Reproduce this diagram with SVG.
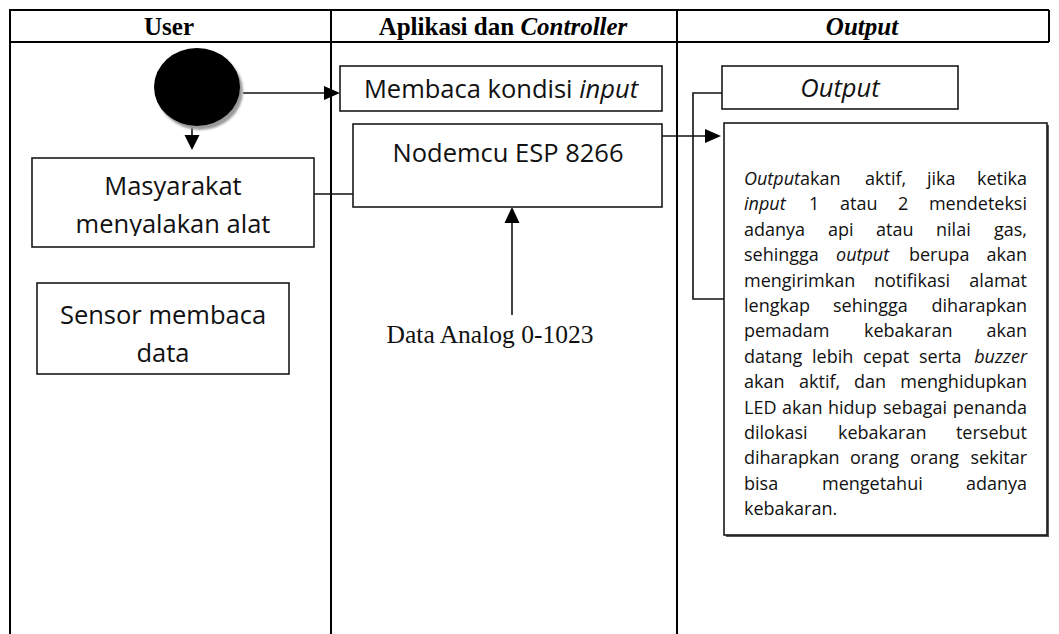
<svg xmlns="http://www.w3.org/2000/svg" width="1059" height="634" viewBox="0 0 1059 634">
  <style>
    .grid { stroke: #000; stroke-width: 2; fill: none; }
    .box { fill: #fff; stroke: #1a1a1a; stroke-width: 1.6; }
    .hdr { font-family: "Liberation Serif", "Times New Roman", serif; font-weight: bold; font-size: 25px; fill: #000; text-anchor: middle; }
    .lbl { font-family: "Open Sans", "Liberation Sans", sans-serif; font-size: 25.5px; fill: #111; text-anchor: middle; }
    .para { font-family: "Open Sans", "Liberation Sans", sans-serif; font-size: 18px; fill: #111; }
    .para .r { text-anchor: end; }
    .serif { font-family: "Liberation Serif", "Times New Roman", serif; font-size: 25.5px; fill: #111; text-anchor: middle; }
    .conn { stroke: #111; stroke-width: 1.6; fill: none; }
    .head { fill: #000; }
    .it { font-style: italic; }
  </style>
  <defs>
    <filter id="soft" x="-20%" y="-20%" width="140%" height="140%">
      <feGaussianBlur stdDeviation="1.2"/>
    </filter>
    <clipPath id="clipMas">
      <rect x="32" y="158" width="282" height="78"/>
    </clipPath>
  </defs>

  <!-- swimlane table -->
  <g id="lanes">
    <line class="grid" x1="9" y1="10" x2="1049" y2="10"/>
    <line class="grid" x1="9" y1="42" x2="1049" y2="42"/>
    <line class="grid" x1="10" y1="10" x2="10" y2="634"/>
    <line class="grid" x1="331" y1="10" x2="331" y2="634"/>
    <line class="grid" x1="677" y1="10" x2="677" y2="634"/>
    <line class="grid" x1="1049" y1="10" x2="1049" y2="42"/>
    <text class="hdr" x="169" y="35">User</text>
    <text class="hdr" x="503" y="35">Aplikasi dan <tspan class="it">Controller</tspan></text>
    <text class="hdr it" x="862" y="35">Output</text>
  </g>

  <!-- connectors -->
  <g id="connectors">
    <line class="conn" x1="243" y1="93" x2="326" y2="93"/>
    <polygon class="head" points="340,93 324,86 324,100"/>
    <line class="conn" x1="192" y1="126" x2="192" y2="137"/>
    <polygon class="head" points="192,150 184.5,135 199.5,135"/>
    <line class="conn" x1="314" y1="194" x2="353" y2="194"/>
    <line class="conn" x1="662" y1="136" x2="707" y2="136"/>
    <polygon class="head" points="721,136 705,129 705,143"/>
    <line class="conn" x1="512" y1="315" x2="512" y2="220"/>
    <polygon class="head" points="512,207 504.5,223 519.5,223"/>
    <polyline class="conn" points="722,93 693,93 693,299 724,299"/>
  </g>

  <g id="start">
    <ellipse cx="200" cy="91" rx="43" ry="39" fill="#9a9a9a" filter="url(#soft)"/>
    <ellipse cx="197" cy="87" rx="43" ry="39" fill="#000"/>
  </g>

  <g id="membaca">
    <rect class="box" x="340" y="66" width="322" height="45"/>
    <text class="lbl" x="501" y="98">Membaca kondisi <tspan class="it">input</tspan></text>
  </g>

  <g id="nodemcu">
    <rect class="box" x="353" y="124" width="309" height="83"/>
    <text class="lbl" x="508" y="162">Nodemcu ESP 8266</text>
  </g>

  <g id="masyarakat">
    <rect class="box" x="32" y="158" width="282" height="89"/>
    <g clip-path="url(#clipMas)">
      <text class="lbl" x="173" y="195">Masyarakat</text>
      <text class="lbl" x="173" y="233">menyalakan alat</text>
    </g>
  </g>

  <g id="sensor">
    <rect class="box" x="37" y="283" width="252" height="91"/>
    <text class="lbl" x="163" y="324">Sensor membaca</text>
    <text class="lbl" x="163" y="362">data</text>
  </g>

  <g id="analog">
    <text class="serif" x="490" y="343">Data Analog 0-1023</text>
  </g>

  <g id="output">
    <rect class="box" x="722" y="66" width="236" height="43"/>
    <text class="lbl it" x="840" y="97">Output</text>
  </g>

  <g id="keterangan">
    <rect x="726" y="125" width="323" height="412" fill="#555"/>
    <rect class="box" x="724" y="123" width="323" height="412"/>
    <text class="para" y="185">
      <tspan x="744"><tspan class="it">Output</tspan>akan</tspan><tspan x="865">aktif,</tspan><tspan x="927">jika</tspan><tspan class="r" x="1027">ketika</tspan>
    </text>
    <text class="para" y="210.4">
      <tspan x="744" class="it">input</tspan><tspan x="809">1</tspan><tspan x="840">atau</tspan><tspan x="898">2</tspan><tspan class="r" x="1027">mendeteksi</tspan>
    </text>
    <text class="para" y="235.8">
      <tspan x="744">adanya</tspan><tspan x="828">api</tspan><tspan x="876">atau</tspan><tspan x="936">nilai</tspan><tspan class="r" x="1027">gas,</tspan>
    </text>
    <text class="para" y="261.2">
      <tspan x="744">sehingga</tspan><tspan x="836" class="it">output</tspan><tspan x="909">berupa</tspan><tspan class="r" x="1027">akan</tspan>
    </text>
    <text class="para" y="286.6">
      <tspan x="744">mengirimkan</tspan><tspan x="874">notifikasi</tspan><tspan class="r" x="1027">alamat</tspan>
    </text>
    <text class="para" y="312">
      <tspan x="744">lengkap</tspan><tspan x="833">sehingga</tspan><tspan class="r" x="1027">diharapkan</tspan>
    </text>
    <text class="para" y="337.4">
      <tspan x="744">pemadam</tspan><tspan x="864">kebakaran</tspan><tspan class="r" x="1027">akan</tspan>
    </text>
    <text class="para" y="362.8">
      <tspan x="744">datang</tspan><tspan x="812">lebih</tspan><tspan x="863">cepat</tspan><tspan x="919">serta</tspan><tspan class="r it" x="1027">buzzer</tspan>
    </text>
    <text class="para" y="388.2">
      <tspan x="744">akan</tspan><tspan x="799">aktif,</tspan><tspan x="854">dan</tspan><tspan class="r" x="1027">menghidupkan</tspan>
    </text>
    <text class="para" y="413.6">
      <tspan x="744">LED</tspan><tspan x="782">akan</tspan><tspan x="828">hidup</tspan><tspan x="883">sebagai</tspan><tspan class="r" x="1027">penanda</tspan>
    </text>
    <text class="para" y="439">
      <tspan x="744">dilokasi</tspan><tspan x="838">kebakaran</tspan><tspan class="r" x="1027">tersebut</tspan>
    </text>
    <text class="para" y="464.4">
      <tspan x="744">diharapkan</tspan><tspan x="850">orang</tspan><tspan x="910">orang</tspan><tspan class="r" x="1027">sekitar</tspan>
    </text>
    <text class="para" y="489.8">
      <tspan x="744">bisa</tspan><tspan x="822">mengetahui</tspan><tspan class="r" x="1027">adanya</tspan>
    </text>
    <text class="para" y="515.2"><tspan x="744">kebakaran.</tspan></text>
  </g>
</svg>
